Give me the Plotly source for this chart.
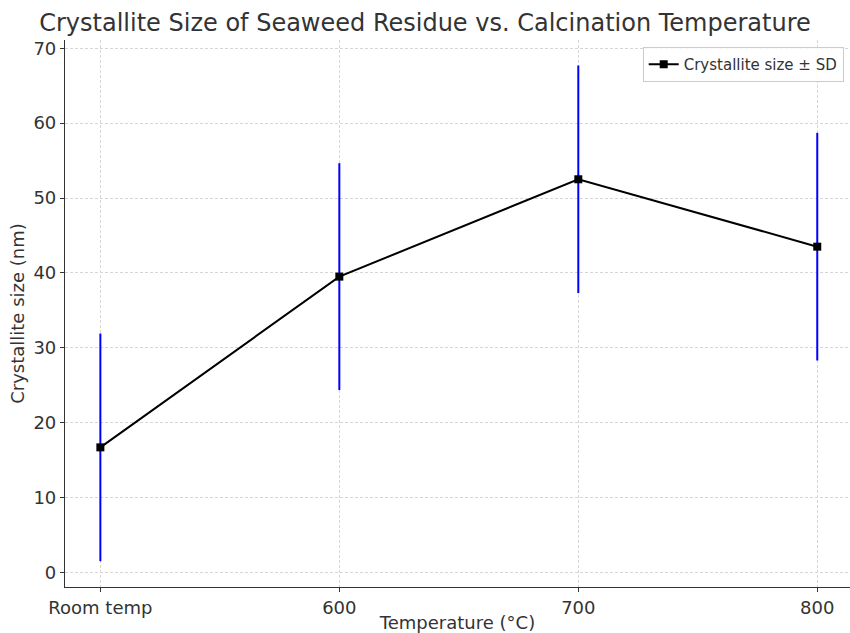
import plotly.graph_objects as go

categories = ["Room temp", "600", "700", "800"]
crystallite_size = [16.7, 39.5, 52.5, 43.5]
size_sd = [15.2, 15.15, 15.2, 15.2]
y_ticks = [0, 10, 20, 30, 40, 50, 60, 70]

x_idx = list(range(len(categories)))

fig = go.Figure()
fig.add_trace(go.Scatter(
    x=x_idx, y=crystallite_size,
    mode="lines+markers",
    name="Crystallite size ± SD",
    line=dict(color="black", width=2),
    marker=dict(symbol="square", size=8, color="black"),
    error_y=dict(type="data", array=size_sd, visible=True, color="blue",
                 thickness=2, width=0),
))

font_family = "DejaVu Sans"
txt = "#333333"
fig.update_layout(
    width=850, height=633,
    paper_bgcolor="white", plot_bgcolor="white",
    margin=dict(l=65, r=0, t=40, b=46, autoexpand=False),
    font=dict(family=font_family, color=txt),
    title=dict(text="Crystallite Size of Seaweed Residue vs. Calcination Temperature",
               x=0.5, xanchor="center", y=0.965, yanchor="middle",
               font=dict(size=24, color=txt)),
    showlegend=True,
    legend=dict(x=0.992, y=0.987, xanchor="right", yanchor="top",
                bgcolor="rgba(255,255,255,0.8)", bordercolor="#cccccc", borderwidth=1,
                font=dict(size=15, color=txt), itemwidth=30),
    xaxis=dict(
        tickmode="array", tickvals=x_idx, ticktext=categories,
        range=[-0.148, 3.137], automargin=False,
        showgrid=True, gridcolor="#d6d6d6", griddash="3px,2px", gridwidth=1,
        showline=True, linecolor=txt, linewidth=1.2,
        ticks="outside", ticklen=4, tickcolor=txt,
        tickfont=dict(size=18, color=txt),
        title=dict(text="Temperature (°C)", font=dict(size=18, color=txt), standoff=4),
        zeroline=False,
    ),
    yaxis=dict(
        tickmode="array", tickvals=y_ticks,
        range=[-1.95, 71.1], automargin=False,
        showgrid=True, gridcolor="#d6d6d6", griddash="3px,2px", gridwidth=1,
        showline=True, linecolor=txt, linewidth=1.2,
        ticks="outside", ticklen=4, tickcolor=txt,
        tickfont=dict(size=18, color=txt),
        title=dict(text="Crystallite size (nm)", font=dict(size=18, color=txt), standoff=4),
        zeroline=False,
    ),
)

fig.write_html(
    "out.html",
    config={"responsive": False, "displayModeBar": False},
    post_script="document.body.style.margin='0';document.body.style.overflow='hidden';",
)
